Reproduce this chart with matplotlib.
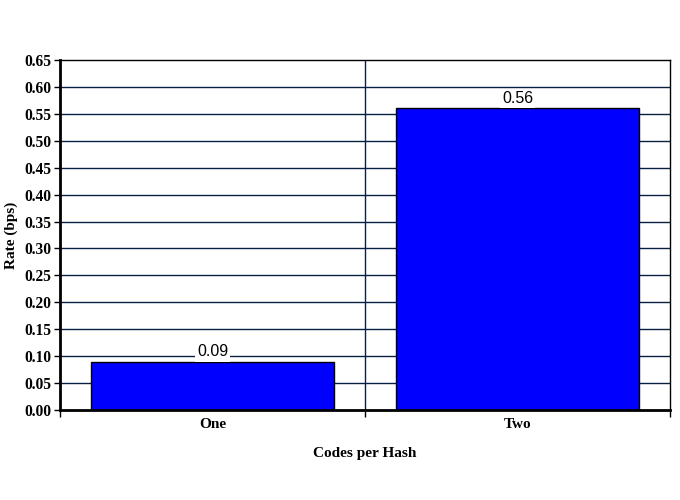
import matplotlib
matplotlib.use("Agg")
import matplotlib.pyplot as plt
from matplotlib.ticker import FixedLocator, NullFormatter

categories = ["One", "Two"]
values = [0.09, 0.56]
value_labels = ["0.09", "0.56"]
y_ticks = [0.00, 0.05, 0.10, 0.15, 0.20, 0.25, 0.30, 0.35, 0.40, 0.45, 0.50, 0.55, 0.60, 0.65]

fig = plt.figure(figsize=(6.8, 5.0), dpi=100)
ax = fig.add_axes([60/680, 90/500, 610/680, 350/500])

grid_color = "#0a1f44"
serif = "Liberation Serif"
sans = "Liberation Sans"

ax.set_xlim(0, len(categories))
ax.set_ylim(0, 0.65)

for yt in y_ticks[1:-1]:
    ax.axhline(yt, color=grid_color, lw=1.0, zorder=0)
for i in range(1, len(categories)):
    ax.axvline(i, color=grid_color, lw=1.0, zorder=0)

xs = [i + 0.5 for i in range(len(categories))]
ax.bar(xs, values, width=0.795, color="#0000ff", edgecolor="black", lw=1.0, zorder=2)

for x, v, lab in zip(xs, values, value_labels):
    ax.annotate(lab, (x, v), xytext=(0, 1.5), textcoords="offset points",
                ha="center", va="bottom", fontsize=11.5, family=sans, color="black",
                bbox=dict(facecolor="white", edgecolor="none", pad=1.5), zorder=3)

ax.set_yticks(y_ticks)
ax.set_yticklabels([f"{t:.2f}" for t in y_ticks], fontsize=11.2, family=serif, fontweight="bold")

ax.xaxis.set_major_locator(FixedLocator(list(range(len(categories) + 1))))
ax.xaxis.set_major_formatter(NullFormatter())
ax.xaxis.set_minor_locator(FixedLocator(xs))
ax.set_xticks(xs, minor=True)
ax.set_xticklabels(categories, minor=True, fontsize=11, family=serif, fontweight="bold")
ax.tick_params(axis="x", which="minor", length=0, pad=6)
ax.tick_params(axis="x", which="major", length=5, width=1, direction="out")
ax.tick_params(axis="y", length=4, width=1, direction="out", pad=2)

for s in ["left", "bottom"]:
    ax.spines[s].set_linewidth(2.0)
for s in ["top", "right"]:
    ax.spines[s].set_linewidth(1.0)

ax.set_xlabel("Codes per Hash", fontsize=11, family=serif, fontweight="bold", labelpad=11)
ax.set_ylabel("Rate (bps)", fontsize=11, family=serif, fontweight="bold", labelpad=5)

fig.savefig("out.png", dpi=100)
